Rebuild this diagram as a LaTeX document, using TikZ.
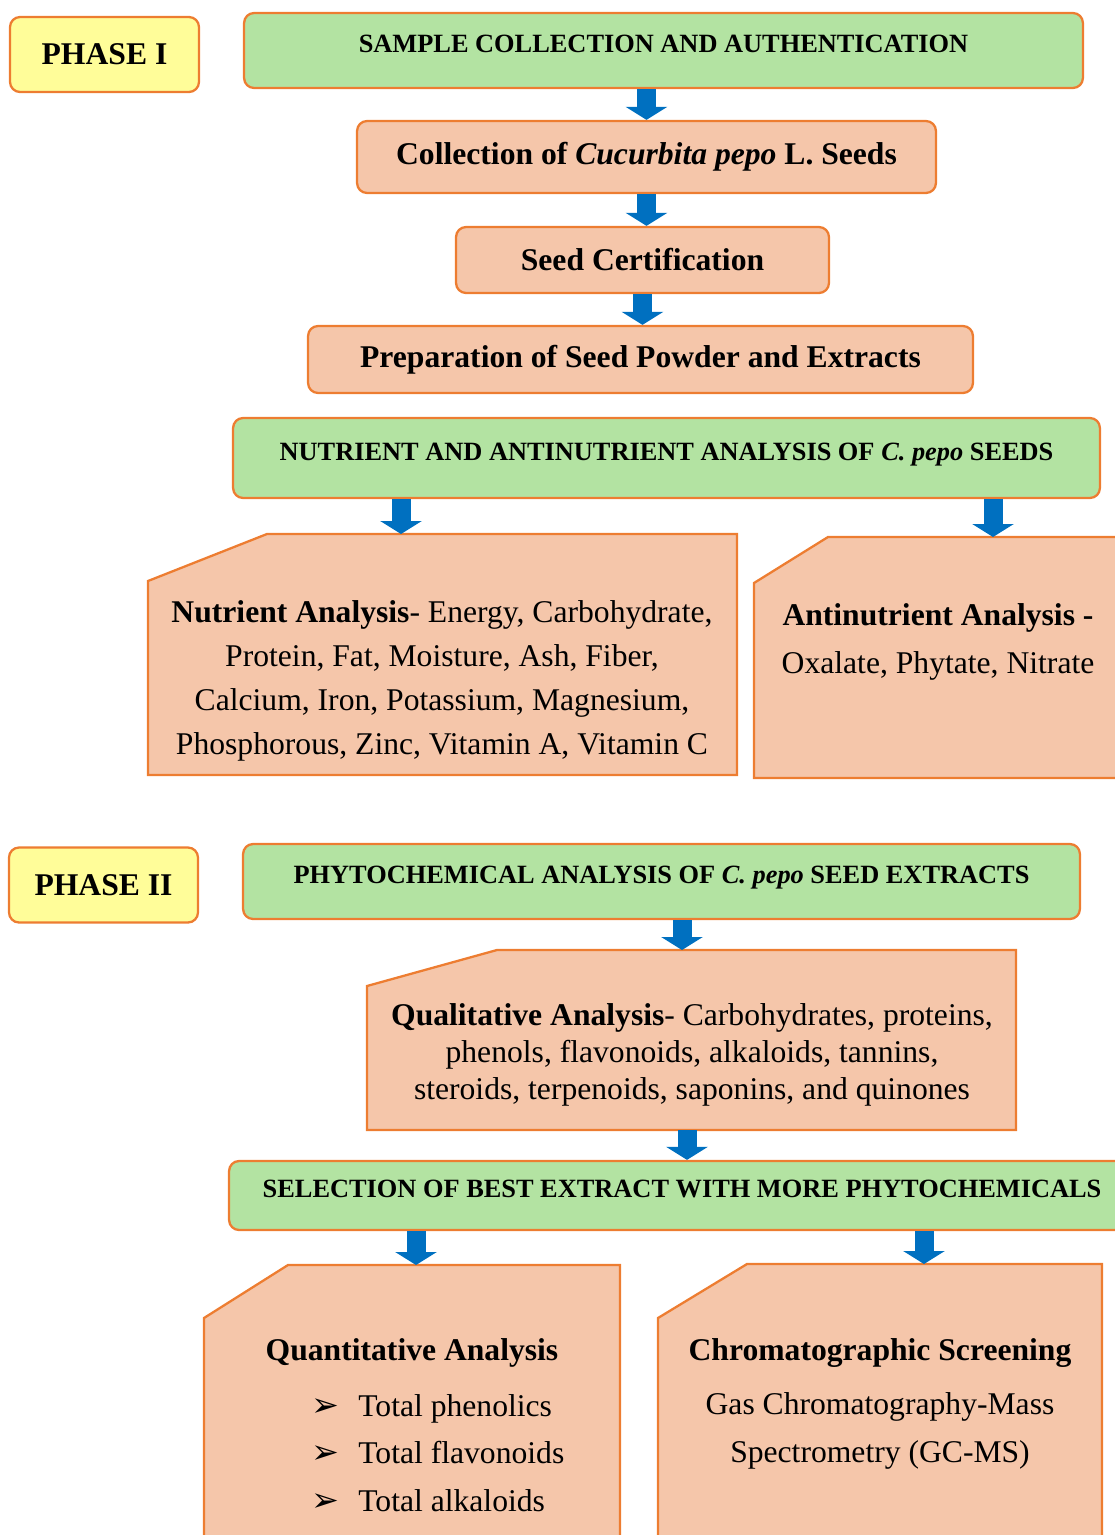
\documentclass[tikz,border=0pt]{standalone}
\usepackage{fontspec}
\setmainfont{Liberation Serif}
\newfontfamily\dejavu{DejaVu Sans}
\usetikzlibrary{arrows.meta, positioning}
\definecolor{hdgreen}{RGB}{179,227,162}
\definecolor{boxpeach}{RGB}{245,198,170}
\definecolor{phaseyellow}{RGB}{255,253,153}
\definecolor{edgeorange}{RGB}{237,125,49}
\definecolor{flowblue}{RGB}{0,112,192}
\newcommand{\pointer}{\makebox[0.94cm][l]{\dejavu\fontsize{19}{19}\selectfont ➢}}
\tikzset{
  phase/.style={draw=edgeorange, line width=1.3pt, fill=phaseyellow, rounded corners=0.2cm,
    minimum width=3.78cm, minimum height=1.5cm, font=\fontsize{18}{22}\selectfont\bfseries},
  header/.style={draw=edgeorange, line width=1.3pt, fill=hdgreen, rounded corners=0.2cm,
    text depth=0.25cm, font=\fontsize{15}{18}\selectfont\bfseries},
  stepbox/.style={draw=edgeorange, line width=1.3pt, fill=boxpeach, rounded corners=0.2cm,
    font=\fontsize{18}{22}\selectfont\bfseries},
  cutbox/.style={draw=edgeorange, line width=1.3pt, fill=boxpeach},
  flow/.style={draw=flowblue, line width=0.38cm, -{Triangle[length=0.26cm,width=0.82cm]}},
}
\begin{document}
\begin{tikzpicture}[x=0.02cm, y=-0.02cm]
        \useasboundingbox (0,0) rectangle (1115,1535);
        % phase I
        \node[phase] (phase1) at (104.5,54.5) {PHASE I};
        \node[header, minimum width=16.78cm, minimum height=1.5cm] (sample) at (663.5,50.5) {SAMPLE COLLECTION AND AUTHENTICATION};
        \node[stepbox, minimum width=11.58cm, minimum height=1.44cm] (collect) at (646.5,157) {Collection of \textit{Cucurbita pepo} L. Seeds};
        \node[stepbox, minimum width=7.46cm, minimum height=1.32cm] (certify) at (642.5,260) {Seed Certification};
        \node[stepbox, minimum width=13.3cm, minimum height=1.34cm] (prepare) at (640.5,359.5) {Preparation of Seed Powder and Extracts};
        \node[header, minimum width=17.34cm, minimum height=1.6cm] (nutrhead) at (666.5,458) {NUTRIENT AND ANTINUTRIENT ANALYSIS OF \textit{C. pepo} SEEDS};
        % nutrient boxes
        \draw[cutbox] (148,581) -- (267,534) -- (737,534) -- (737,775) -- (148,775) -- cycle;
        \node[align=center, font=\fontsize{18}{25}\selectfont] (nutrient) at (442,681)
          {\textbf{Nutrient Analysis}- Energy, Carbohydrate,\\ Protein, Fat, Moisture, Ash, Fiber,\\ Calcium, Iron, Potassium, Magnesium,\\ Phosphorous, Zinc, Vitamin A, Vitamin C};
        \draw[cutbox] (754,583) -- (828,537) -- (1125,537) -- (1125,778) -- (754,778) -- cycle;
        \node[align=center, font=\fontsize{18}{27}\selectfont] (antinutrient) at (938,642)
          {\textbf{Antinutrient Analysis -}\\ Oxalate, Phytate, Nitrate};
        \coordinate (nutrtop) at (401,534);
        \coordinate (antitop) at (993,537);
        % phase II
        \node[phase] (phase2) at (103.5,885) {PHASE II};
        \node[header, minimum width=16.74cm, minimum height=1.5cm] (phyto) at (661.5,881.5) {PHYTOCHEMICAL ANALYSIS OF \textit{C. pepo} SEED EXTRACTS};
        \draw[cutbox] (367,986) -- (497,950) -- (1016,950) -- (1016,1130) -- (367,1130) -- cycle;
        \node[align=center, font=\fontsize{18}{21}\selectfont] (qualitative) at (692,1055)
          {\textbf{Qualitative Analysis}- Carbohydrates, proteins,\\ phenols, flavonoids, alkaloids, tannins,\\ steroids, terpenoids, saponins, and quinones};
        \coordinate (qualtop) at (682,950);
        \coordinate (qualbot) at (687,1130);
        \node[header, minimum width=18.12cm, minimum height=1.38cm] (selection) at (682,1195.5) {SELECTION OF BEST EXTRACT WITH MORE PHYTOCHEMICALS};
        % last row
        \draw[cutbox] (204,1318) -- (288,1265) -- (620,1265) -- (620,1545) -- (204,1545) -- cycle;
        \node[font=\fontsize{18}{22}\selectfont\bfseries] (quanttitle) at (412,1353) {Quantitative Analysis};
        \node[anchor=west, inner sep=0pt, align=left, font=\fontsize{18}{27}\selectfont] (quantlist) at (311,1453)
          {\pointer Total phenolics\\ \pointer Total flavonoids\\ \pointer Total alkaloids};
        \draw[cutbox] (658,1318) -- (747,1264) -- (1102,1264) -- (1102,1545) -- (658,1545) -- cycle;
        \node[font=\fontsize{18}{22}\selectfont\bfseries] (chromtitle) at (880,1353) {Chromatographic Screening};
        \node[align=center, font=\fontsize{18}{27}\selectfont] (gcms) at (880,1431)
          {Gas Chromatography-Mass\\ Spectrometry (GC-MS)};
        \coordinate (quanttop) at (416,1265);
        \coordinate (chromtop) at (924,1264);

        % arrows between the steps
        \draw[flow] (sample.south -| collect.north) -- (collect.north);
        \draw[flow] (collect.south) -- (collect.south |- certify.north);
        \draw[flow] (certify.south) -- (certify.south |- prepare.north);
        \draw[flow] (nutrhead.south -| nutrtop) -- (nutrtop);
        \draw[flow] (nutrhead.south -| antitop) -- (antitop);
        \draw[flow] (phyto.south -| qualtop) -- (qualtop);
        \draw[flow] (qualbot) -- (qualbot |- selection.north);
        \draw[flow] (selection.south -| quanttop) -- (quanttop);
        \draw[flow] (selection.south -| chromtop) -- (chromtop);
\end{tikzpicture}
\end{document}
